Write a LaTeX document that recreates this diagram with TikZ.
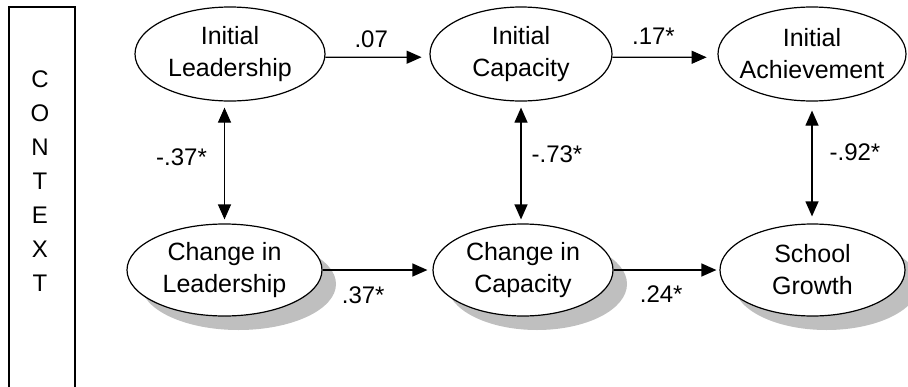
\documentclass[tikz,border=0pt]{standalone}
\usepackage{fontspec}
\setmainfont{Liberation Sans}
\usetikzlibrary{arrows.meta,shapes.geometric,shadows}
\begin{document}
\begin{tikzpicture}[x=1pt,y=-1pt,
  var/.style={ellipse, draw, line width=1.2pt, fill=white, inner sep=-12pt, align=center,
              font=\fontsize{25}{32}\selectfont},
  shad/.style={drop shadow={shadow xshift=14pt, shadow yshift=-14pt, fill=black!25, opacity=1}},
  tip/.tip={Triangle[length=15pt,width=13pt]},
  conn/.style={line width=1.2pt, -tip},
  biconn/.style={line width=1.2pt, tip-tip},
  lbl/.style={font=\fontsize{24}{28}\selectfont, inner sep=0pt}
]
\useasboundingbox (0,0) rectangle (908,386);

% context box
\draw[line width=1.2pt] (9,392) -- (9,7) -- (75,7) -- (75,392);
\node[font=\fontsize{24}{34}\selectfont, align=center, inner sep=0pt] (ctx) at (40,181)
  {C\\O\\N\\T\\E\\X\\T};

% variables
\node[var, minimum width=190pt, minimum height=94pt] (IL) at (230,54) {Initial\\Leadership};
\node[var, minimum width=182pt, minimum height=94pt] (IC) at (521,54) {Initial\\Capacity};
\node[var, minimum width=188pt, minimum height=94pt] (IA) at (812,54) {Initial\\Achievement};
\node[var, shad, minimum width=195pt, minimum height=92pt] (CL) at (224.5,270) {Change in\\Leadership};
\node[var, shad, minimum width=180pt, minimum height=92pt] (CC) at (523,270) {Change in\\Capacity};
\node[var, shad, minimum width=185pt, minimum height=92pt] (SG) at (812.5,270) {School\\Growth};

% horizontal paths
\draw[conn, shorten >=8pt] (IL.-2.5) -- node[lbl, above=9pt, pos=0.44] (l07) {.07} (IC.182);
\draw[conn, shorten >=11pt] (IC.-2.5) -- node[lbl, above=12pt, pos=0.39] (l17) {.17*} (IA.182);
\draw[conn, shorten >=5pt] (CL.east) -- node[lbl, below=16pt, pos=0.37] (l37) {.37*} (CC.west);
\draw[conn, shorten >=3pt] (CC.east) -- node[lbl, below=15pt, pos=0.45] (l24) {.24*} (SG.west);

% vertical correlations
\draw[biconn, shorten <=6pt, shorten >=4pt] (CL.north |- IL.south) -- node[lbl, left=17pt, pos=0.455] (lm37) {-.37*} (CL.north);
\draw[biconn, shorten <=6pt, shorten >=4pt] (IC.south) -- node[lbl, right=10pt, pos=0.43] (lm73) {-.73*} (IC.south |- CC.north);
\draw[biconn, shorten <=9pt, shorten >=7pt] (IA.south) -- node[lbl, right=17pt, pos=0.415] (lm92) {-.92*} (IA.south |- SG.north);
\end{tikzpicture}
\end{document}
